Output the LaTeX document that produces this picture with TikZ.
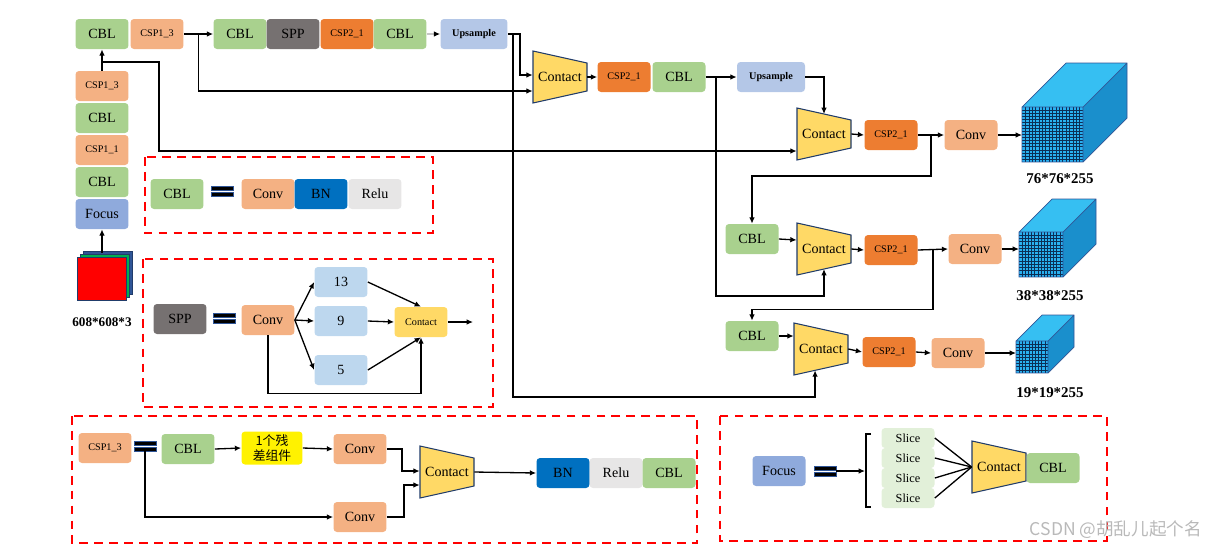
\documentclass[tikz,border=0pt]{standalone}
\usepackage{fontspec}
\setmainfont{Liberation Serif}
\newfontfamily\cjk{Noto Sans CJK SC}
\usetikzlibrary{arrows.meta,calc,positioning}

\definecolor{cblgreen}{HTML}{A9D18E}
\definecolor{csplight}{HTML}{F4B183}
\definecolor{csporange}{HTML}{ED7D31}
\definecolor{sppgrey}{HTML}{767171}
\definecolor{upblue}{HTML}{B4C7E7}
\definecolor{focusblue}{HTML}{8FAADC}
\definecolor{contactyellow}{HTML}{FFD966}
\definecolor{bnblue}{HTML}{0070C0}
\definecolor{relugrey}{HTML}{E7E6E6}
\definecolor{slicegreen}{HTML}{E2F0D9}
\definecolor{poolblue}{HTML}{BDD7EE}
\definecolor{cubetop}{HTML}{36BFF2}
\definecolor{cubefront}{HTML}{29B0F0}
\definecolor{cubeside}{HTML}{1A8FCC}
\definecolor{cubegrid}{HTML}{0B2E55}
\definecolor{edgeblue}{HTML}{2F5597}
\definecolor{imggreen}{HTML}{00B050}

\tikzset{
	blk/.style={rounded corners=2pt, minimum width=1.06cm, minimum height=0.6cm, inner sep=0pt, font=\fontsize{8}{9}\selectfont},
	cbl/.style={blk, fill=cblgreen},
	cspone/.style={blk, fill=csplight, font=\fontsize{5.8}{6}\selectfont},
	csptwo/.style={blk, fill=csporange, font=\fontsize{5.8}{6}\selectfont},
	conv/.style={blk, fill=csplight},
	upsmp/.style={blk, fill=upblue, minimum width=1.34cm, font=\bfseries\fontsize{5.8}{6}\selectfont},
	line/.style={line width=0.75pt, -{Latex[length=3.6pt,width=3.2pt]}},
	wire/.style={line width=0.75pt},
	redbox/.style={draw=red, line width=1.3pt, dash pattern=on 5pt off 3.5pt},
	lbl/.style={font=\bfseries\fontsize{8.5}{9}\selectfont},
}

% trapezoid "Contact" block: [font size] name, x, y
\newcommand{\contactblock}[4][8]{%
	\draw [fill=contactyellow, draw=edgeblue!70!black, line width=0.6pt] (#3-27,#4-26) coordinate (#2-tl) -- (#3+27,#4-14) coordinate (#2-tr) -- (#3+27,#4+14) coordinate (#2-br) -- (#3-27,#4+26) coordinate (#2-bl) -- cycle;
	\node [font=\fontsize{#1}{#1}\selectfont, minimum width=1.08cm, minimum height=1.04cm, inner sep=0pt] (#2) at (#3,#4) {Contact};
}
% double bar: name, x, y
\newcommand{\eqsign}[3]{%
	\node [inner sep=0pt, minimum width=0.44cm, minimum height=0.2cm] (#1) at (#2,#3) {};
	\filldraw [fill=black, draw=edgeblue, line width=0.3pt] (#2-11,#3-5) rectangle (#2+11,#3-1) (#2-11,#3+1) rectangle (#2+11,#3+5);
}
% feature cube: name, x, y (front top left), w, h, depth, grid lines
\newcommand{\featcube}[7]{%
	\fill [cubeside] (#2+#4,#3) -- ++(#6,-#6) -- ++(0,#5) -- ++(-#6,#6) -- cycle;
	\fill [cubetop] (#2,#3) -- ++(#6,-#6) -- ++(#4,0) -- ++(-#6,#6) -- cycle;
	\fill [cubefront] (#2,#3) rectangle ++(#4,#5);
	\foreach \k in {1,...,#7}{
		\draw [cubegrid, line width=0.3pt] ({#2+\k*#4/(#7+1)},#3) -- ++(0,#5);
		\draw [cubegrid, line width=0.3pt] (#2,{#3+\k*#5/(#7+1)}) -- ++(#4,0);
	}
	\draw [edgeblue, line width=0.4pt] (#2,#3) rectangle ++(#4,#5) (#2,#3) -- ++(#6,-#6) -- ++(#4,0) -- ++(0,#5) -- ++(-#6,#6) (#2+#4,#3) -- ++(#6,-#6);
	\coordinate (#1) at (#2,#3+#5/2);
}

\begin{document}
\begin{tikzpicture}[x=0.02cm, y=-0.02cm]
	\useasboundingbox (0,0) rectangle (1221,556);
	% input image
		\filldraw [fill=edgeblue, draw=edgeblue!70!black, line width=0.4pt] (83,251) rectangle (132,294);
		\filldraw [fill=imggreen, draw=edgeblue!70!black, line width=0.4pt] (80,254) rectangle (129,297);
		\filldraw [fill=red, draw=edgeblue!70!black, line width=0.4pt] (77,257) rectangle (126,300);
		\coordinate (imgtop) at (102,253);
		\node [lbl, font=\bfseries\fontsize{7.5}{8}\selectfont] (imglab) at (102,322) {608*608*3};
	% backbone column
		\node [blk, fill=focusblue] (focusL) at (102,214) {Focus};
		\node [cbl] (cblL2) at (102,182) {CBL};
		\node [cspone] (cspL2) at (102,150) {CSP1\_1};
		\node [cbl] (cblL1) at (102,118) {CBL};
		\node [cspone] (cspL1) at (102,86) {CSP1\_3};
		\draw [line] (imgtop) -- (focusL.south);
	% top row
		\node [cbl] (cblA) at (102,34) {CBL};
		\node [cspone] (cspA) at (157,34) {CSP1\_3};
		\node [cbl] (cblB) at (240,34) {CBL};
		\node [blk, fill=sppgrey] (sppA) at (293,34) {SPP};
		\node [csptwo] (csptwoA) at (347,34) {CSP2\_1};
		\node [cbl] (cblC) at (400,34) {CBL};
		\node [upsmp] (upA) at (474,34) {Upsample};
		\contactblock{c1}{560}{77}
		\node [csptwo] (csptwoB) at (624,77) {CSP2\_1};
		\node [cbl] (cblD) at (679,77) {CBL};
		\node [upsmp, minimum width=1.36cm] (upB) at (771,77) {Upsample};
	% head
		\contactblock{c2}{824}{134}
		\node [csptwo] (csptwoC) at (891,135) {CSP2\_1};
		\node [conv] (convA) at (971,135) {Conv};
		\featcube{cubeA}{1022}{107}{61}{55}{44}{17}
		\node [lbl] (labA) at (1060,179) {76*76*255};
		\node [cbl] (cblE) at (752,239) {CBL};
		\contactblock{c2b}{824}{249}
		\node [csptwo] (csptwoD) at (891,250) {CSP2\_1};
		\node [conv] (convB) at (975,249) {Conv};
		\featcube{cubeB}{1019}{232}{44}{45}{33}{13}
		\node [lbl] (labB) at (1050,296) {38*38*255};
		\node [cbl] (cblF) at (752,336) {CBL};
		\contactblock{c3}{821}{349}
		\node [csptwo] (csptwoE) at (889,352) {CSP2\_1};
		\node [conv] (convC) at (958,353) {Conv};
		\featcube{cubeC}{1016}{341}{32}{32}{26}{9}
		\node [lbl] (labC) at (1050,393) {19*19*255};
	% connectors
		\draw [line] (cspL1.north) -- (cblA.south);
		\coordinate (jA) at (102,62);
		\draw [line] (jA) -- (159,62) |- ($(c2.west)+(0,17)$);
		\draw [line] (cspA.east) -- (cblB.west);
		\draw [line] ($(cspA.east)!0.5!(cblB.west)$) |- ($(c1.west)+(0,14)$);
		\draw [line, draw=gray!45, -{Latex[length=3.6pt,width=3.2pt,black]}] (cblC.east) -- (upA.west);
		\draw [line] (upA.east) -- ($(upA.east)+(12,0)$) |- ($(c1.west)+(0,-2)$);
		\draw [line] ($(upA.east)+(5,0)$) -- ++(0,363) -| ($(c3-bl)!0.39!(c3-br)$);
		\draw [line] (c1.east) -- (csptwoB.west);
		\draw [line] (cblD.east) -- (upB.west);
		\draw [line] ($(cblD.east)+(10,0)$) -- ++(0,219) -| ($(c2b-bl)!0.5!(c2b-br)$);
		\draw [line] (upB.east) -| ($(c2-tl)!0.5!(c2-tr)$);
		\draw [line] (c2.east) -- (csptwoC.west);
		\draw [line] (csptwoC.east) -- (convA.west);
		\draw [line] (convA.east) -- (convA.east -| cubeA);
		\draw [line] ($(csptwoC.east)!0.5!(convA.west)$) -- ++(0,41) -| (cblE.north);
		\draw [line] (cblE.east) -- ($(c2b.west)+(0,-9)$);
		\draw [line] (c2b.east) -- (csptwoD.west);
		\draw [line] (csptwoD.east) -- (convB.west);
		\draw [line] (convB.east) -- (convB.east -| cubeB);
		\draw [line] ($(csptwoD.east)!0.5!(convB.west)$) -- ++(0,60) -| (cblF.north);
		\draw [line] (cblF.east) -- ($(c3.west)+(0,-13)$);
		\draw [line] (c3.east) -- (csptwoE.west);
		\draw [line] (csptwoE.east) -- (convC.west);
		\draw [line] (convC.east) -- (convC.east -| cubeC);
	% CBL legend
		\draw [redbox] (145,157) rectangle (433,233);
		\node [cbl] (cblK) at (177,194) {CBL};
		\eqsign{eqK}{222}{191}
		\node [conv] (convK) at (268,194) {Conv};
		\node [blk, fill=bnblue] (bnK) at (321,194) {BN};
		\node [blk, fill=relugrey] (reluK) at (375,194) {Relu};
	% SPP legend
		\draw [redbox] (143,259) rectangle (493,407);
		\node [blk, fill=sppgrey] (sppK) at (180,319) {SPP};
		\eqsign{eqS}{224}{318}
		\node [conv] (sppconv) at (268,320) {Conv};
		\node [blk, fill=poolblue] (p13) at (341,282) {13};
		\node [blk, fill=poolblue] (p9) at (341,321) {9};
		\node [blk, fill=poolblue] (p5) at (341,370) {5};
		\node [blk, fill=contactyellow, font=\fontsize{5.8}{6}\selectfont] (sppcat) at (421,322) {Contact};
		\coordinate (sppout) at (473,322);
		\draw [line] (sppconv.east) -- (p13.west);
		\draw [line] (sppconv.east) -- (p9.west);
		\draw [line] (sppconv.east) -- (p5.west);
		\draw [line] (p13.east) -- (sppcat.north);
		\draw [line] (p9.east) -- (sppcat.west);
		\draw [line] (p5.east) -- (sppcat.south);
		\draw [line] (sppconv.south) -- ++(0,58) -| (sppcat.south);
		\draw [line] (sppcat.east) -- (sppout);
	% CSP legend
		\draw [redbox] (72,416) rectangle (697,543);
		\node [cspone] (cspin) at (105,448) {CSP1\_3};
		\eqsign{eqC}{145}{446}
		\node [cbl] (cspcbl) at (188,449) {CBL};
		\node [blk, fill=yellow, minimum width=1.22cm, minimum height=0.66cm, align=center, font=\cjk\fontsize{7.3}{8.8}\selectfont] (res) at (272,448) {1个残\\差组件};
		\node [conv] (cspconvA) at (360,449) {Conv};
		\node [conv] (cspconvB) at (360,517) {Conv};
		\contactblock{cc}{447}{472}
		\node [blk, fill=bnblue] (bnC) at (563,473) {BN};
		\node [blk, fill=relugrey] (reluC) at (616,473) {Relu};
		\node [cbl] (cblout) at (669,473) {CBL};
		\draw [line] (cspcbl.east) -- (res.west);
		\draw [line] (res.east) -- (cspconvA.west);
		\draw [line] (cspconvA.east) -- ++(15,0) |- ($(cc.west)+(0,-1)$);
		\draw [line] (cspconvB.east) -- ++(17,0) |- ($(cc.west)+(0,13)$);
		\draw [line] (eqC.south) |- (cspconvB.west);
		\draw [line] (cc.east) -- (bnC.west);
	% Focus legend
		\draw [redbox] (720,416) rectangle (1107,541);
		\node [blk, fill=focusblue] (focusK) at (779,471) {Focus};
		\eqsign{eqF}{825}{471}
		\coordinate (brk) at (865,471);
		\draw [wire] (871,434) -- (866,434) -- (866,507) -- (871,507);
		\draw [line] (eqF.east) -- (brk);
		\node [blk, fill=slicegreen, minimum height=0.4cm, font=\fontsize{7}{8}\selectfont] (sA) at (908,438) {Slice};
		\node [blk, fill=slicegreen, minimum height=0.4cm, font=\fontsize{7}{8}\selectfont] (sB) at (908,458) {Slice};
		\node [blk, fill=slicegreen, minimum height=0.4cm, font=\fontsize{7}{8}\selectfont] (sC) at (908,478) {Slice};
		\node [blk, fill=slicegreen, minimum height=0.4cm, font=\fontsize{7}{8}\selectfont] (sD) at (908,498) {Slice};
		\contactblock{fc}{999}{467}
		\node [cbl] (fcbl) at (1053,468) {CBL};
		\foreach \s in {sA,sB,sC,sD}
			\draw [wire] (\s.east) -- (fc.west);
	% watermark
		\node [anchor=east, font=\cjk\fontsize{10}{10}\selectfont, text=gray!55] (mark) at (1208,530) {CSDN @胡乱儿起个名};
\end{tikzpicture}
\end{document}
